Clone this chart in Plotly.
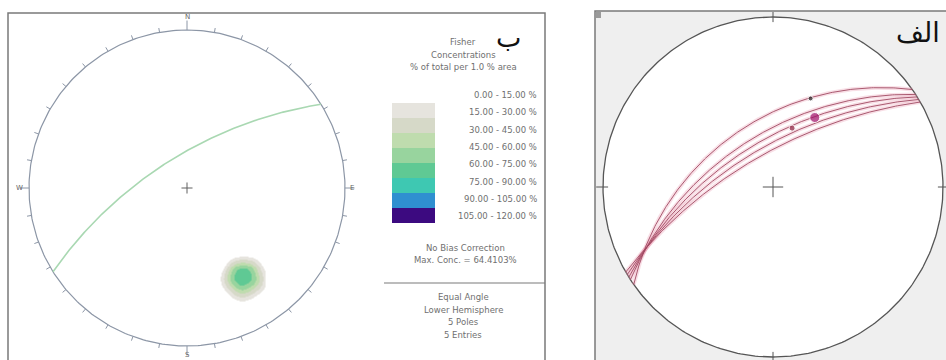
import numpy as np
import plotly.graph_objects as go

W, H = 946, 360

# ---------------- data ----------------
# Panel "ب" (left): poles (trend, plunge in degrees) used for the Fisher density
left_pole_trend = [148.0, 153.2, 151.2, 144.8, 142.8]
left_pole_plunge = [28.0, 24.5, 19.0, 19.0, 24.5]
max_conc = 64.4103

band_labels = ["0.00 - 15.00 %", "15.00 - 30.00 %", "30.00 - 45.00 %", "45.00 - 60.00 %",
               "60.00 - 75.00 %", "75.00 - 90.00 %", "90.00 - 105.00 %", "105.00 - 120.00 %"]
band_edges = [0, 15, 30, 45, 60, 75, 90, 105, 120]
band_colors = ["#e6e4de", "#d6d9c8", "#bfdcae", "#98d49e", "#5fc994",
               "#3ec8b2", "#2f8fd0", "#3c0a80"]

legend_title = ["Fisher", "Concentrations", "% of total per 1.0 % area"]
legend_info1 = ["No Bias Correction", "Max. Conc. = 64.4103%"]
legend_info2 = ["Equal Angle", "Lower Hemisphere", "5 Poles", "5 Entries"]

# Panel "الف" (right): planes (dip direction, dip) and lineations (trend, plunge)
right_dipdir = [325, 327, 328, 329, 330]
right_dip = [48, 56, 60, 64, 68]
lin_trend = [23, 31, 18]
lin_plunge = [31, 39, 50]
lin_colors = ["#202020", "#a0106a", "#8a1838"]
lin_sizes = [5, 10, 6]

label_left = "ب"
label_right = "الف"


# ---------------- helpers ----------------
def proj(trend, plunge):
    t = np.radians(np.asarray(trend, float))
    r = np.tan(np.radians(45 - np.asarray(plunge, float) / 2))
    return r * np.sin(t), r * np.cos(t)


def vec(trend, plunge):
    t = np.radians(np.asarray(trend, float))
    p = np.radians(np.asarray(plunge, float))
    return np.stack([np.cos(p) * np.sin(t), np.cos(p) * np.cos(t), -np.sin(p)], axis=-1)


def plane_curve(dd, dip, n=241):
    st = np.radians(dd - 90)
    ddr = np.radians(dd)
    dp = np.radians(dip)
    s = np.array([np.sin(st), np.cos(st), 0.0])
    d = np.array([np.sin(ddr) * np.cos(dp), np.cos(ddr) * np.cos(dp), -np.sin(dp)])
    t = np.linspace(0, np.pi, n)
    v = np.outer(np.cos(t), s) + np.outer(np.sin(t), d)
    return v[:, 0] / (1 - v[:, 2]), v[:, 1] / (1 - v[:, 2])


def axis_box(cx, cy, R, x0, x1, y0, y1):
    xa = dict(domain=[x0 / W, x1 / W], range=[(x0 - cx) / R, (x1 - cx) / R], visible=False, fixedrange=True)
    ya = dict(domain=[1 - y1 / H, 1 - y0 / H], range=[(cy - y1) / R, (cy - y0) / R], visible=False, fixedrange=True)
    return xa, ya


def ticks(step, inner, outer, long_outer=None):
    xs, ys = [], []
    for a in range(0, 360, step):
        o = long_outer if (long_outer and a % 90 == 0) else outer
        ar = np.radians(a)
        xs += [inner * np.sin(ar), o * np.sin(ar), None]
        ys += [inner * np.cos(ar), o * np.cos(ar), None]
    return xs, ys


fig = go.Figure()

# ---------------- left panel ----------------
g = np.linspace(-1, 1, 321)
GX, GY = np.meshgrid(g, g)
RR = np.hypot(GX, GY)
inside = RR <= 1
pl = 90 - 2 * np.degrees(np.arctan(np.clip(RR, 0, 1)))
tr = np.degrees(np.arctan2(GX, GY))
V = vec(tr, pl)
P = vec(left_pole_trend, left_pole_plunge)
kappa = 300.0
dens = np.zeros_like(GX)
for pv in P:
    dots = np.abs(V @ pv)
    dens += np.exp(kappa * (dots - 1))
dens = dens / dens.max() * max_conc
Z = np.where(inside & (dens > 6), dens, np.nan)

cs = []
nb = len(band_colors)
for i, c in enumerate(band_colors):
    cs.append([i / nb, c])
    cs.append([(i + 1) / nb, c])
fig.add_trace(go.Heatmap(x=g, y=g, z=Z, colorscale=cs, zmin=band_edges[0], zmax=band_edges[-1],
                         showscale=False, zsmooth="best", hoverinfo="skip",
                         xaxis="x", yaxis="y"))

th = np.radians(np.linspace(0, 360, 361))
fig.add_trace(go.Scatter(x=np.sin(th), y=np.cos(th), mode="lines",
                         line=dict(color="#8c96a6", width=1.2), hoverinfo="skip",
                         xaxis="x", yaxis="y"))
tx, ty = ticks(10, 1.0, 1.028, 1.06)
fig.add_trace(go.Scatter(x=tx, y=ty, mode="lines", line=dict(color="#8c96a6", width=1),
                         hoverinfo="skip", xaxis="x", yaxis="y"))
fig.add_trace(go.Scatter(x=[-0.035, 0.035, None, 0, 0], y=[0, 0, None, -0.035, 0.035], mode="lines",
                         line=dict(color="#606060", width=1), hoverinfo="skip", xaxis="x", yaxis="y"))

# mean plane from the mean pole
mv = P.sum(axis=0)
mv = mv / np.linalg.norm(mv)
mean_plunge = np.degrees(np.arcsin(-mv[2]))
mean_trend = np.degrees(np.arctan2(mv[0], mv[1])) % 360
mx, my = plane_curve((mean_trend + 180) % 360, 90 - mean_plunge)
fig.add_trace(go.Scatter(x=mx, y=my, mode="lines", line=dict(color="#a9d8b2", width=1.6),
                         hoverinfo="skip", xaxis="x", yaxis="y"))

# ---------------- right panel ----------------
fig.add_trace(go.Scatter(x=np.sin(th), y=np.cos(th), mode="lines", fill="toself", fillcolor="white",
                         line=dict(color="#555555", width=1.3), hoverinfo="skip",
                         xaxis="x2", yaxis="y2"))
rtx, rty = [], []
for a in (0, 90, 180, 270):
    ar = np.radians(a)
    rtx += [0.97 * np.sin(ar), 1.04 * np.sin(ar), None]
    rty += [0.97 * np.cos(ar), 1.04 * np.cos(ar), None]
fig.add_trace(go.Scatter(x=rtx, y=rty, mode="lines", line=dict(color="#555555", width=1),
                         hoverinfo="skip", xaxis="x2", yaxis="y2"))
fig.add_trace(go.Scatter(x=[-0.06, 0.06, None, 0, 0], y=[0, 0, None, -0.06, 0.06], mode="lines",
                         line=dict(color="#555555", width=1), hoverinfo="skip", xaxis="x2", yaxis="y2"))
for dd, dp in zip(right_dipdir, right_dip):
    px_, py_ = plane_curve(dd, dp)
    fig.add_trace(go.Scatter(x=px_, y=py_, mode="lines", line=dict(color="rgba(232,150,172,0.3)", width=4),
                             hoverinfo="skip", xaxis="x2", yaxis="y2"))
for dd, dp in zip(right_dipdir, right_dip):
    px_, py_ = plane_curve(dd, dp)
    fig.add_trace(go.Scatter(x=px_, y=py_, mode="lines", line=dict(color="#a04a62", width=0.9),
                             hoverinfo="skip", xaxis="x2", yaxis="y2"))
lx, ly = proj(lin_trend, lin_plunge)
fig.add_trace(go.Scatter(x=lx, y=ly, mode="markers",
                         marker=dict(color=lin_colors, size=lin_sizes), hoverinfo="skip",
                         xaxis="x2", yaxis="y2"))

# ---------------- layout ----------------
xa1, ya1 = axis_box(187, 188, 158, 9, 544, 14, 360)
xa2, ya2 = axis_box(773, 187, 170, 596, 946, 12, 360)

shapes = [
    dict(type="rect", xref="paper", yref="paper", x0=8 / W, x1=545 / W, y0=-0.05, y1=1 - 13 / H,
         fillcolor="white", line=dict(color="#7a7a7a", width=1.5), layer="below"),
    dict(type="line", xref="paper", yref="paper", x0=384 / W, x1=545 / W, y0=1 - 283 / H, y1=1 - 283 / H,
         line=dict(color="#7a7a7a", width=1.2), layer="below"),
    dict(type="rect", xref="paper", yref="paper", x0=595 / W, x1=1.05, y0=-0.05, y1=1 - 11 / H,
         fillcolor="#efefef", line=dict(color="#7a7a7a", width=1.5), layer="below"),
    dict(type="rect", xref="paper", yref="paper", x0=596 / W, x1=601 / W, y0=1 - 18 / H, y1=1 - 12 / H,
         fillcolor="#9a9a9a", line=dict(width=0), layer="below"),
]
sw_top, sw_h = 103, 15
for i, c in enumerate(band_colors):
    shapes.append(dict(type="rect", xref="paper", yref="paper", x0=392 / W, x1=435 / W,
                       y1=1 - (sw_top + i * sw_h) / H, y0=1 - (sw_top + (i + 1) * sw_h) / H,
                       fillcolor=c, line=dict(width=0), layer="below"))

annotations = []
small = dict(family="DejaVu Sans, Verdana", size=8.5, color="#707070")


def ann(text, x, y, xanchor="center", font=small):
    annotations.append(dict(text=text, x=x / W, y=1 - y / H, xref="paper", yref="paper",
                            xanchor=xanchor, yanchor="middle", showarrow=False, font=font))


for i, t in enumerate(legend_title):
    ann(t, 463, 42 + i * 12.5)
for i, t in enumerate(band_labels):
    ann(t, 539, 95 + i * 17.3, xanchor="right")
for i, t in enumerate(legend_info1):
    ann(t, 465, 248 + i * 12)
for i, t in enumerate(legend_info2):
    ann(t, 463, 297 + i * 12.7)

tiny = dict(family="DejaVu Sans", size=7, color="#666666")
ann("N", 187, 17, font=tiny)
ann("W", 19, 188, font=tiny)
ann("E", 352, 188, font=tiny)
ann("S", 187, 355, font=tiny)

big = dict(family="DejaVu Sans", size=27, color="#111111")
ann(label_left, 508, 38, font=big)
ann(label_right, 918, 32, font=big)

fig.update_layout(width=W, height=H, autosize=False, margin=dict(l=0, r=0, t=0, b=0),
                  paper_bgcolor="white", plot_bgcolor="rgba(0,0,0,0)", showlegend=False,
                  xaxis=xa1, yaxis=ya1, xaxis2=xa2, yaxis2=ya2,
                  shapes=shapes, annotations=annotations)

fig.write_html("out.html", config={"displayModeBar": False, "staticPlot": True},
               post_script="document.body.style.margin='0px';document.body.style.overflow='hidden';")
